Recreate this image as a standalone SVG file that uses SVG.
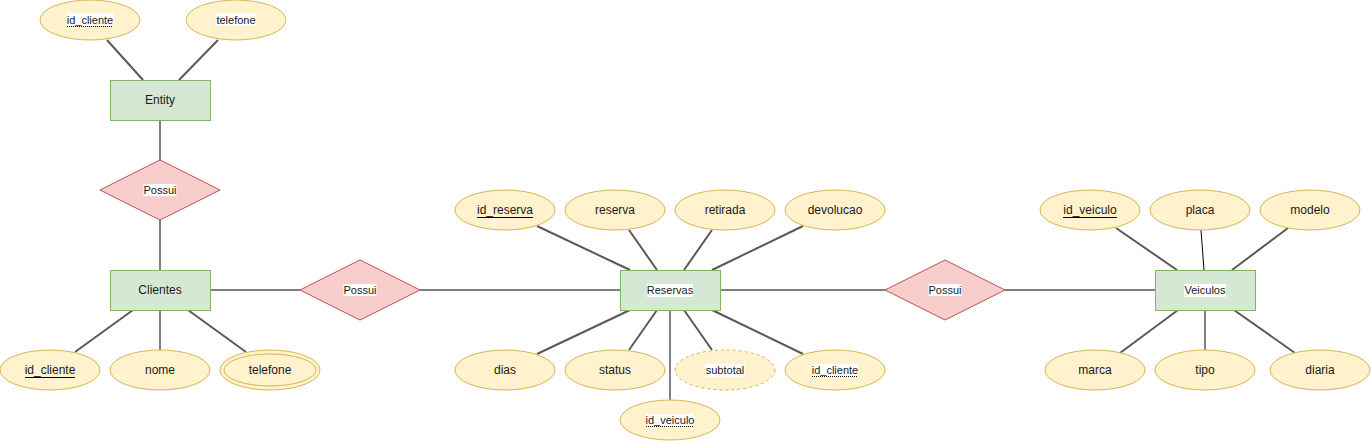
<svg xmlns="http://www.w3.org/2000/svg" width="1371" height="441" viewBox="0 0 1371 441">
<style>
.ent{fill:#d5e8d4;stroke:#82b366;stroke-width:1}
.rel{fill:#f8cecc;stroke:#b85450;stroke-width:1}
.att{fill:#fff2cc;stroke:#d6b656;stroke-width:1}
.der{fill:#fff2cc;stroke:#d6b656;stroke-width:1;stroke-dasharray:3 3}
.t{font-family:"Liberation Sans",Arial,sans-serif;font-size:12px;fill:#1a1a1a;text-anchor:middle}
.s{font-size:11px}
.bg{fill:#ffffff}
.g{stroke:#595959;stroke-width:2;fill:none}
.k{stroke:#000000;stroke-width:1;fill:none}
.dot{stroke:#000;stroke-width:1;stroke-dasharray:1 1}
.ul{stroke:#000;stroke-width:1}
</style>
<rect width="1371" height="441" fill="#ffffff"/>
<g id="connectors">
<line class="g" x1="107" y1="40" x2="143" y2="80"/>
<line class="g" x1="218" y1="40" x2="179" y2="80"/>
<line class="k" x1="160" y1="120" x2="160" y2="160"/>
<line class="k" x1="160" y1="220" x2="160" y2="270"/>
<line class="g" x1="133" y1="310" x2="75" y2="352"/>
<line class="k" x1="160" y1="310" x2="160" y2="350"/>
<line class="g" x1="188" y1="310" x2="246" y2="352"/>
<line class="k" x1="210" y1="290" x2="300" y2="290"/>
<line class="k" x1="420" y1="290" x2="620" y2="290"/>
<line class="g" x1="537" y1="226" x2="630" y2="270"/>
<line class="g" x1="629" y1="230" x2="657" y2="270"/>
<line class="g" x1="712" y1="230" x2="684" y2="270"/>
<line class="g" x1="803" y1="226" x2="712" y2="270"/>
<line class="g" x1="630" y1="310" x2="537" y2="354"/>
<line class="g" x1="657" y1="310" x2="629" y2="350"/>
<line class="g" x1="684" y1="310" x2="712" y2="350"/>
<line class="g" x1="712" y1="310" x2="803" y2="354"/>
<line class="k" x1="670" y1="310" x2="670" y2="400"/>
<line class="k" x1="720" y1="290" x2="885" y2="290"/>
<line class="k" x1="1005" y1="290" x2="1155" y2="290"/>
<line class="g" x1="1116" y1="228" x2="1177" y2="270"/>
<line class="k" x1="1201" y1="230" x2="1204" y2="270"/>
<line class="g" x1="1288" y1="228" x2="1232" y2="270"/>
<line class="g" x1="1178" y1="310" x2="1120" y2="353"/>
<line class="k" x1="1205" y1="310" x2="1205" y2="350"/>
<line class="g" x1="1234" y1="310" x2="1295" y2="353"/>
</g>
<g id="entity">
<rect class="ent" x="110.5" y="80.5" width="100" height="40"/>
<text class="t" x="160" y="104">Entity</text>
</g>
<g id="entity_id_cliente">
<ellipse class="att" cx="90" cy="20" rx="50" ry="20"/>
<rect class="bg" x="67" y="13" width="46" height="13"/>
<text class="t s" x="90" y="24">id_cliente</text>
<line class="dot" x1="67" y1="26.5" x2="113" y2="26.5"/>
</g>
<g id="entity_telefone">
<ellipse class="att" cx="236" cy="20" rx="50" ry="20"/>
<rect class="bg" x="216" y="13" width="40" height="13"/>
<text class="t s" x="236" y="24">telefone</text>
</g>
<g id="possui1">
<polygon class="rel" points="160,160 220,190 160,220 100,190"/>
<rect class="bg" x="143.5" y="184" width="33" height="12"/>
<text class="t s" x="160" y="194">Possui</text>
</g>
<g id="clientes">
<rect class="ent" x="110.5" y="270.5" width="100" height="40"/>
<text class="t" x="160" y="294">Clientes</text>
</g>
<g id="cli_id_cliente">
<ellipse class="att" cx="50" cy="370" rx="50" ry="20"/>
<text class="t" x="50" y="374">id_cliente</text>
<line class="ul" x1="25" y1="377.5" x2="75" y2="377.5"/>
</g>
<g id="cli_nome">
<ellipse class="att" cx="160" cy="370" rx="50" ry="20"/>
<text class="t" x="160" y="374">nome</text>
</g>
<g id="cli_telefone">
<ellipse class="att" cx="270" cy="370" rx="50" ry="20"/>
<ellipse class="att" cx="270" cy="370" rx="46" ry="16"/>
<text class="t" x="270" y="374">telefone</text>
</g>
<g id="possui2">
<polygon class="rel" points="360,260 420,290 360,320 300,290"/>
<rect class="bg" x="343.5" y="284" width="33" height="12"/>
<text class="t s" x="360" y="294">Possui</text>
</g>
<g id="reservas">
<rect class="ent" x="620.5" y="270.5" width="100" height="40"/>
<rect class="bg" x="647" y="284" width="46" height="13"/>
<text class="t s" x="670" y="294">Reservas</text>
</g>
<g id="res_id_reserva">
<ellipse class="att" cx="505" cy="210" rx="50" ry="20"/>
<text class="t" x="505" y="214">id_reserva</text>
<line class="ul" x1="477" y1="217.5" x2="533" y2="217.5"/>
</g>
<g id="res_reserva">
<ellipse class="att" cx="615" cy="210" rx="50" ry="20"/>
<text class="t" x="615" y="214">reserva</text>
</g>
<g id="res_retirada">
<ellipse class="att" cx="725" cy="210" rx="50" ry="20"/>
<text class="t" x="725" y="214">retirada</text>
</g>
<g id="res_devolucao">
<ellipse class="att" cx="835" cy="210" rx="50" ry="20"/>
<text class="t" x="835" y="214">devolucao</text>
</g>
<g id="res_dias">
<ellipse class="att" cx="505" cy="370" rx="50" ry="20"/>
<text class="t" x="505" y="374">dias</text>
</g>
<g id="res_status">
<ellipse class="att" cx="615" cy="370" rx="50" ry="20"/>
<text class="t" x="615" y="374">status</text>
</g>
<g id="res_subtotal">
<ellipse class="der" cx="725" cy="370" rx="50" ry="20"/>
<rect class="bg" x="705" y="364" width="40" height="13"/>
<text class="t s" x="725" y="374">subtotal</text>
</g>
<g id="res_id_cliente">
<ellipse class="att" cx="835" cy="370" rx="50" ry="20"/>
<rect class="bg" x="812" y="364" width="46" height="13"/>
<text class="t s" x="835" y="374">id_cliente</text>
<line class="dot" x1="812" y1="376.5" x2="858" y2="376.5"/>
</g>
<g id="res_id_veiculo">
<ellipse class="att" cx="670" cy="420" rx="50" ry="20"/>
<rect class="bg" x="646" y="414" width="48" height="13"/>
<text class="t s" x="670" y="424">id_veiculo</text>
<line class="dot" x1="646" y1="426.5" x2="694" y2="426.5"/>
</g>
<g id="possui3">
<polygon class="rel" points="945,260 1005,290 945,320 885,290"/>
<rect class="bg" x="928.5" y="284" width="33" height="12"/>
<text class="t s" x="945" y="294">Possui</text>
</g>
<g id="veiculos">
<rect class="ent" x="1155.5" y="270.5" width="100" height="40"/>
<rect class="bg" x="1184" y="284" width="42" height="13"/>
<text class="t s" x="1205" y="294">Veiculos</text>
</g>
<g id="vei_id_veiculo">
<ellipse class="att" cx="1090" cy="210" rx="50" ry="20"/>
<text class="t" x="1090" y="214">id_veiculo</text>
<line class="ul" x1="1063" y1="217.5" x2="1117" y2="217.5"/>
</g>
<g id="vei_placa">
<ellipse class="att" cx="1200" cy="210" rx="50" ry="20"/>
<text class="t" x="1200" y="214">placa</text>
</g>
<g id="vei_modelo">
<ellipse class="att" cx="1310" cy="210" rx="50" ry="20"/>
<text class="t" x="1310" y="214">modelo</text>
</g>
<g id="vei_marca">
<ellipse class="att" cx="1095" cy="370" rx="50" ry="20"/>
<text class="t" x="1095" y="374">marca</text>
</g>
<g id="vei_tipo">
<ellipse class="att" cx="1205" cy="370" rx="50" ry="20"/>
<text class="t" x="1205" y="374">tipo</text>
</g>
<g id="vei_diaria">
<ellipse class="att" cx="1320" cy="370" rx="50" ry="20"/>
<text class="t" x="1320" y="374">diaria</text>
</g>
</svg>
